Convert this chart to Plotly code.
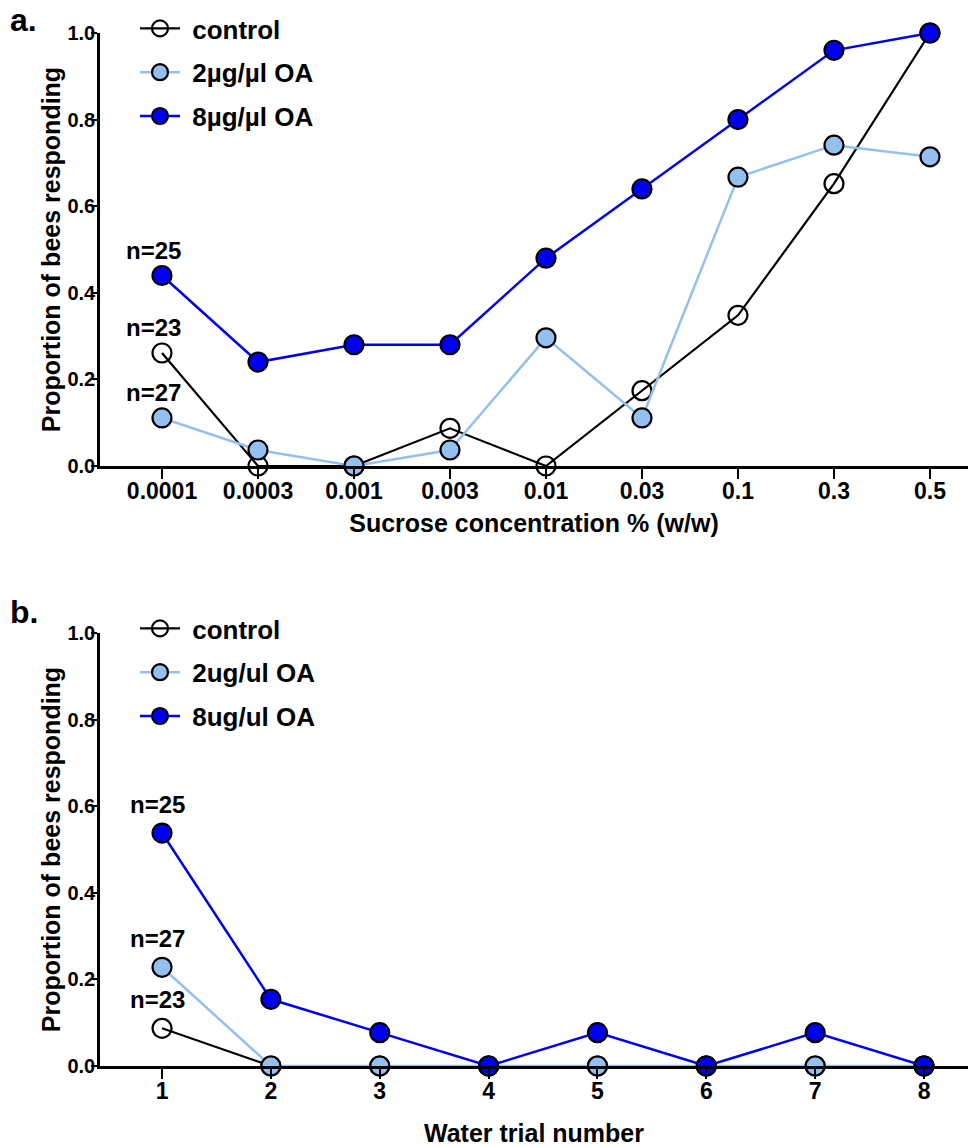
import plotly.graph_objects as go

# ---- data ----
sucrose_conc = ["0.0001", "0.0003", "0.001", "0.003", "0.01", "0.03", "0.1", "0.3", "0.5"]
a_control = [0.261, 0.0, 0.0, 0.087, 0.0, 0.174, 0.348, 0.652, 1.0]
a_oa2 = [0.111, 0.037, 0.0, 0.037, 0.296, 0.111, 0.667, 0.741, 0.714]
a_oa8 = [0.44, 0.24, 0.28, 0.28, 0.48, 0.64, 0.80, 0.96, 1.0]

water_trial = [1, 2, 3, 4, 5, 6, 7, 8]
b_control = [0.087, 0, 0, 0, 0, 0, 0, 0]
b_oa2 = [0.228, 0, 0, 0, 0, 0, 0, 0]
b_oa8 = [0.538, 0.154, 0.077, 0, 0.077, 0, 0.077, 0]

names_a = ["control", "2µg/µl OA", "8µg/µl OA"]
names_b = ["control", "2ug/ul OA", "8ug/ul OA"]
n_labels = ["n=23", "n=27", "n=25"]

LIGHT = "#94C0F0"
DARK = "#0000F0"
FONT = "Liberation Sans"
W, H = 970, 1147

fig = go.Figure()

def add_series(x, ys, names, xa, ya, legend):
    styles = [
        dict(line=dict(color="black", width=2.2),
             marker=dict(symbol="circle-open", size=19, color="black", line=dict(width=2.2))),
        dict(line=dict(color=LIGHT, width=2.5),
             marker=dict(symbol="circle", size=19, color=LIGHT, line=dict(width=2.2, color="black"))),
        dict(line=dict(color=DARK, width=2.5),
             marker=dict(symbol="circle", size=19, color=DARK, line=dict(width=2.2, color="black"))),
    ]
    for i, (y, nm) in enumerate(zip(ys, names)):
        fig.add_trace(go.Scatter(x=x, y=y, name=" " + nm, mode="lines+markers",
                                 xaxis=xa, yaxis=ya, legend=legend, cliponaxis=False,
                                 legendgroup=legend + str(i), **styles[i]))

add_series(sucrose_conc, [a_control, a_oa2, a_oa8], names_a, "x", "y", "legend")
add_series(water_trial, [b_control, b_oa2, b_oa8], names_b, "x2", "y2", "legend2")

xtickfont = dict(family=FONT, size=23, color="black", weight="bold")
ytickfont = dict(family=FONT, size=20, color="black", weight="bold")
titlefont = dict(family=FONT, size=25, color="black", weight="bold")

def py(px):
    return 1 - px / H

def px_(p):
    return p / W

common_x = dict(showline=True, linecolor="black", linewidth=2.5, ticks="outside",
                ticklen=10, tickwidth=2, tickcolor="black", tickfont=xtickfont,
                ticklabelstandoff=-7, automargin=False,
                showgrid=False, zeroline=False, domain=[px_(100), px_(968)])
common_y = dict(showline=True, linecolor="black", linewidth=2.5, ticks="outside",
                ticklen=6, tickwidth=2, tickcolor="black", tickfont=ytickfont,
                ticklabelstandoff=-8, automargin=False,
                showgrid=False, zeroline=False, range=[0, 1.0],
                tickvals=[0, 0.2, 0.4, 0.6, 0.8, 1.0], tickformat=".1f")

legfont = dict(family=FONT, size=26, color="black", weight="bold")

fig.update_layout(
    width=W, height=H,
    paper_bgcolor="white", plot_bgcolor="white",
    margin=dict(l=0, r=0, t=0, b=0, autoexpand=False),
    xaxis=dict(**common_x, type="category", range=[-0.646, 8.396], anchor="y",
               title=dict(text="Sucrose concentration % (w/w)", font=titlefont, standoff=12)),
    yaxis=dict(**common_y, domain=[py(466), py(33)], anchor="x",
               title=dict(text="Proportion of bees responding", font=titlefont, standoff=0)),
    xaxis2=dict(**common_x, range=[0.43, 8.404], anchor="y2",
                tickvals=water_trial,
                title=dict(text="Water trial number", font=titlefont, standoff=23)),
    yaxis2=dict(**common_y, domain=[py(1066), py(633)], anchor="x2",
                title=dict(text="Proportion of bees responding", font=titlefont, standoff=0)),
    showlegend=True,
    legend=dict(x=px_(135), y=py(5), xanchor="left", yanchor="top",
                font=legfont, bgcolor="rgba(0,0,0,0)", tracegroupgap=7, itemwidth=40),
    legend2=dict(x=px_(135), y=py(605), xanchor="left", yanchor="top",
                 font=legfont, bgcolor="rgba(0,0,0,0)", tracegroupgap=7, itemwidth=40),
)

ann_font = dict(family=FONT, size=24, color="black", weight="bold")
for lab, yv in zip(n_labels, [a_control[0], a_oa2[0], a_oa8[0]]):
    fig.add_annotation(x=sucrose_conc[0], y=yv, xref="x", yref="y", text=lab,
                       showarrow=False, font=ann_font, yshift=25, xshift=-9)
for lab, yv in zip(n_labels, [b_control[0], b_oa2[0], b_oa8[0]]):
    fig.add_annotation(x=water_trial[0], y=yv, xref="x2", yref="y2", text=lab,
                       showarrow=False, font=ann_font, yshift=29, xshift=-5)

fig.add_annotation(x=px_(8), y=py(0), xref="paper", yref="paper", text="a.",
                   showarrow=False, xanchor="left", yanchor="top",
                   font=dict(family=FONT, size=32, color="black", weight="bold"))
fig.add_annotation(x=px_(8), y=py(592), xref="paper", yref="paper", text="b.",
                   showarrow=False, xanchor="left", yanchor="top",
                   font=dict(family=FONT, size=32, color="black", weight="bold"))

fig.write_html("out.html", config={"displayModeBar": False},
               post_script="document.body.style.margin='0px';document.body.style.padding='0px';")
